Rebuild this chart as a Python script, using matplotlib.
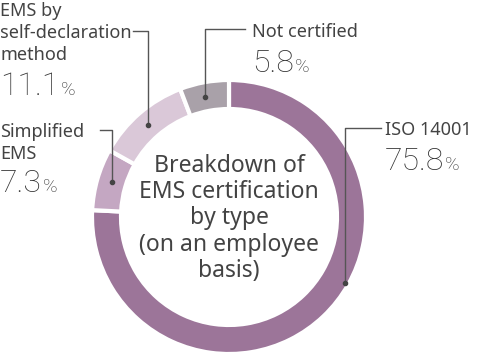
import matplotlib
matplotlib.use("Agg")
import matplotlib.pyplot as plt

# data
labels = [["ISO 14001"], ["Simplified", "EMS"], ["EMS by", "self-declaration", "method"], ["Not certified"]]
shares = [75.8, 7.3, 11.1, 5.8]
colors = ["#9c7599", "#c4a7c2", "#dac8d8", "#a9a1a9"]
center_title = ["Breakdown of", "EMS certification", "by type", "(on an employee", "basis)"]

W, H = 483, 356
fig = plt.figure(figsize=(W / 100, H / 100), dpi=100)
ax = fig.add_axes([0, 0, 1, 1])

def Y(y):
    return H - y

cx, cy, R = 229, 217, 137
ax.pie(shares, colors=colors, startangle=90, counterclock=False,
       center=(cx, Y(cy)), radius=R, frame=True,
       wedgeprops=dict(width=29, edgecolor="white", linewidth=3))
ax.set_xlim(0, W)
ax.set_ylim(0, H)
ax.set_aspect("equal")
ax.axis("off")

txt = "#434343"
lab_font = "Noto Sans"
num_font = "Roboto"

for k, s in enumerate(center_title):
    ax.text(cx, Y(172 + 26.2 * k), s, ha="center", va="baseline", fontsize=16.5,
            family=lab_font, color=txt)

line_kw = dict(color="#555555", lw=1)

# (dot x, dot y, corner y, line end x, text x, first baseline y, number baseline y, label)
callouts = [
    (345, 283, 128, 381, 385, 135, 170, 0),
    (112, 182, 130, 100, 0, 137, 192, 1),
    (148, 125, 31, 133, 0, 16, 95, 2),
    (205, 97, 29, 245, 252, 37, 72, 3),
]

fig.canvas.draw()
rend = fig.canvas.get_renderer()
for dx, dy, ly, ex, tx, base, nb, i in callouts:
    ax.plot([dx, dx, ex], [Y(dy), Y(ly), Y(ly)], **line_kw)
    ax.plot(dx, Y(dy), "o", color="#444444", ms=3)
    for k, s in enumerate(labels[i]):
        ax.text(tx, Y(base + 22 * k), s, ha="left", va="baseline", fontsize=13,
                family=lab_font, color=txt)
    t = ax.text(tx, Y(nb), f"{shares[i]:.1f}", ha="left", va="baseline",
                fontsize=23, family=num_font, weight="light", color="#333333")
    bb = t.get_window_extent(rend)
    ax.text(bb.x1 + 1, Y(nb), "%", ha="left", va="baseline",
            fontsize=14, family=num_font, weight="light", color="#333333")

fig.savefig("out.png", dpi=100)
